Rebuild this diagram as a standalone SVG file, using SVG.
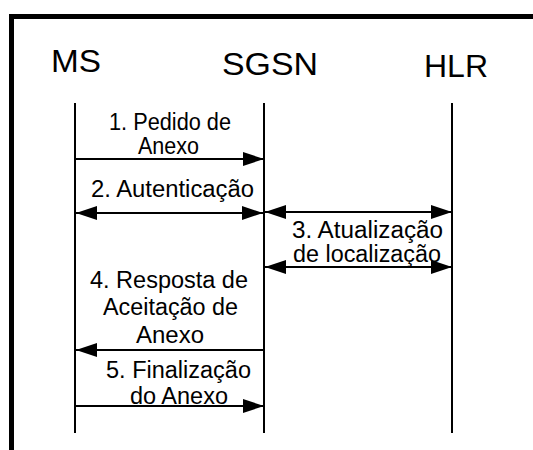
<svg xmlns="http://www.w3.org/2000/svg" width="533" height="450" viewBox="0 0 533 450">
<style>
.title{font-family:"Liberation Sans",Arial,sans-serif;font-size:31px;fill:#000;text-anchor:middle}
.lbl{font-family:"Liberation Sans",Arial,sans-serif;font-size:23px;fill:#000;text-anchor:middle}
.life{stroke:#000;stroke-width:2;fill:none}
.msg{stroke:#000;stroke-width:2;fill:none}
.border{stroke:#000;stroke-width:5;fill:none}
</style>
<defs>
<marker id="ah" markerUnits="userSpaceOnUse" markerWidth="22" markerHeight="14" refX="21" refY="7" orient="auto-start-reverse" viewBox="0 0 22 14">
<path d="M0,0 L21,7 L0,14 z" fill="#000"/>
</marker>
</defs>
<rect width="533" height="450" fill="#fff"/>
<path class="border" d="M11.5,450 L11.5,16.5 L533,16.5"/>
<g id="MS">
<text class="title" x="76" y="72" textLength="50" lengthAdjust="spacingAndGlyphs">MS</text>
<line class="life" x1="75" y1="103" x2="75" y2="433"/>
</g>
<g id="SGSN">
<text class="title" x="270" y="75" textLength="96" lengthAdjust="spacingAndGlyphs">SGSN</text>
<line class="life" x1="264" y1="103" x2="264" y2="433"/>
</g>
<g id="HLR">
<text class="title" x="456" y="77" textLength="64" lengthAdjust="spacingAndGlyphs">HLR</text>
<line class="life" x1="452" y1="103" x2="452" y2="433"/>
</g>
<g id="connectors">
<line class="msg" x1="76" y1="159" x2="264" y2="159" marker-end="url(#ah)"/>
<line class="msg" x1="76" y1="213" x2="263" y2="213" marker-start="url(#ah)" marker-end="url(#ah)"/>
<line class="msg" x1="265" y1="212" x2="452" y2="212" marker-start="url(#ah)" marker-end="url(#ah)"/>
<line class="msg" x1="265" y1="267" x2="452" y2="267" marker-start="url(#ah)" marker-end="url(#ah)"/>
<line class="msg" x1="264" y1="350" x2="76" y2="350" marker-end="url(#ah)"/>
<line class="msg" x1="76" y1="406" x2="264" y2="406" marker-end="url(#ah)"/>
</g>
<g id="labels">
<text class="lbl" x="170" y="130" textLength="122" lengthAdjust="spacingAndGlyphs">1. Pedido de</text>
<text class="lbl" x="168.5" y="154" textLength="61" lengthAdjust="spacingAndGlyphs">Anexo</text>
<text class="lbl" x="172.5" y="197" textLength="163" lengthAdjust="spacingAndGlyphs">2. Autenticação</text>
<text class="lbl" x="367.5" y="238" textLength="151" lengthAdjust="spacingAndGlyphs">3. Atualização</text>
<text class="lbl" x="367" y="262" textLength="148" lengthAdjust="spacingAndGlyphs">de localização</text>
<text class="lbl" x="169" y="288" textLength="158" lengthAdjust="spacingAndGlyphs">4. Resposta de</text>
<text class="lbl" x="170.5" y="315" textLength="135" lengthAdjust="spacingAndGlyphs">Aceitação de</text>
<text class="lbl" x="170" y="343" textLength="68" lengthAdjust="spacingAndGlyphs">Anexo</text>
<text class="lbl" x="178.5" y="378" textLength="145" lengthAdjust="spacingAndGlyphs">5. Finalização</text>
<text class="lbl" x="179" y="404" textLength="98" lengthAdjust="spacingAndGlyphs">do Anexo</text>
</g>
</svg>
